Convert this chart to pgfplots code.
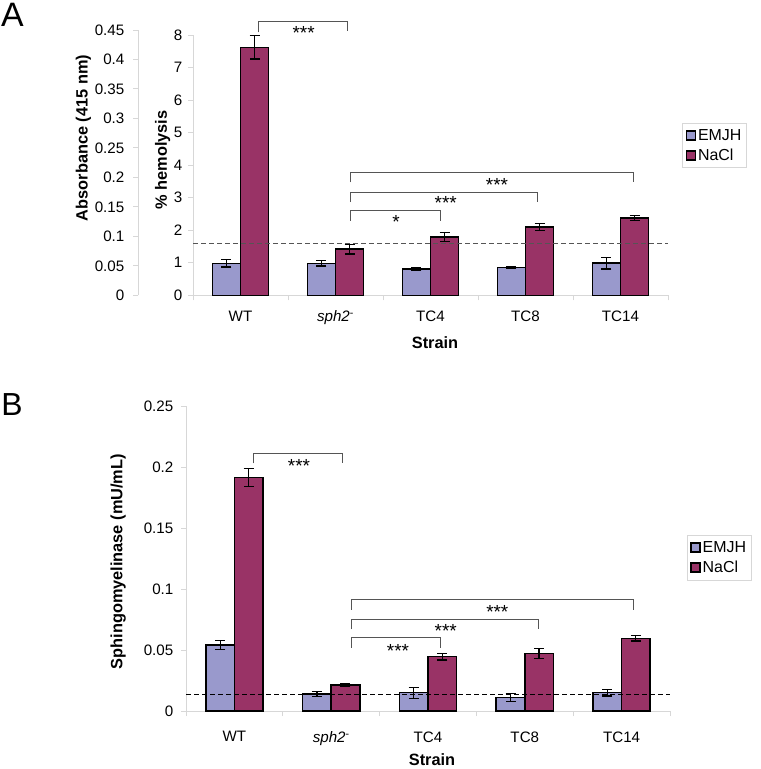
\documentclass[border=0pt]{standalone}
\usepackage{pgfplots}
\pgfplotsset{compat=1.18}
\usepackage{pgfplotstable}
\usepackage{fontspec}
\setmainfont{Liberation Sans}
\definecolor{emjh}{RGB}{153,153,204}
\definecolor{nacl}{RGB}{153,51,102}
\definecolor{axgray}{RGB}{215,215,215}
\definecolor{brgray}{RGB}{85,85,85}

\pgfplotstableread{
x emjh emjherr nacl naclerr
0 0.98 0.11 7.62 0.36
1 0.98 0.08 1.42 0.15
2 0.81 0.04 1.79 0.14
3 0.86 0.02 2.10 0.10
4 0.99 0.18 2.38 0.08
}\dataA

\pgfplotstableread{
x emjh emjherr nacl naclerr
0 0.0541 0.0040 0.1915 0.0074
1 0.0139 0.0020 0.0213 0.0008
2 0.0150 0.0045 0.0445 0.0027
3 0.0112 0.0033 0.0470 0.0042
4 0.0150 0.0027 0.0596 0.0022
}\dataB

\tikzset{
  bracket/.style={brgray, line width=1bp},
  stars/.style={anchor=north, inner sep=0pt, font=\fontsize{19}{19}\selectfont},
  boldlab/.style={inner sep=0pt, font=\bfseries\fontsize{16.4}{18}\selectfont},
}

\pgfplotsset{
  yaxisgray/.style={
    scale only axis, clip=false,
    axis y line*=left,
    y axis line style={axgray, line width=1bp},
    tick align=outside, major tick length=5bp,
    ytick style={axgray, line width=1bp},
    /pgf/number format/assume math mode=true,
    tick label style={font=\fontsize{15.2}{17}\selectfont},
  },
  barchart/.style={
    yaxisgray,
    ybar=0pt, bar width=0.295,
    xmin=-0.5, xmax=4.5, ymin=0,
    axis x line*=bottom,
    x axis line style={axgray, line width=1bp},
    xtick={-0.5,0.5,...,4.5}, xticklabels={},
    xtick style={axgray, line width=1bp},
    extra x ticks={0,1,2,3,4},
    extra x tick labels={WT,\textit{sph2}\textsuperscript{-},TC4,TC8,TC14},
    legend style={draw=axgray, fill=white, line width=0.8bp,
      font=\fontsize{16}{17}\selectfont, inner xsep=3bp, inner ysep=4bp,
      row sep=3bp, cells={anchor=west}},
    legend image code/.code={\draw[#1, draw=black, line width=1.4bp] (0bp,-4.5bp) rectangle (9bp,4.5bp);},
  },
  emjhbar/.style={fill=emjh, draw=black, line width=1.5bp,
    error bars/.cd, y dir=both, y explicit,
    error bar style={line width=1.2bp, black},
    error mark options={rotate=90, black, line width=1.2bp, mark size=5bp}},
  naclbar/.style={fill=nacl, draw=black, line width=1.5bp,
    error bars/.cd, y dir=both, y explicit,
    error bar style={line width=1.2bp, black},
    error mark options={rotate=90, black, line width=1.2bp, mark size=5bp}},
}

\begin{document}
\begin{tikzpicture}
\useasboundingbox (0,0) rectangle (761bp,-769bp);

% Panel letters
\node[font=\fontsize{34}{36}\selectfont] at (12.5bp,-15bp) {A};
\node[font=\fontsize{32}{34}\selectfont] at (12bp,-404.5bp) {B};

% ---------------- Panel A: absorbance axis ----------------
\begin{axis}[yaxisgray,
  width=10bp, height=265.3bp, at={(138bp,-295.3bp)}, anchor=south west,
  xmin=0, xmax=1, ymin=0, ymax=0.45,
  axis x line=none,
  ytick={0,0.05,0.1,0.15,0.2,0.25,0.3,0.35,0.4,0.45},
  yticklabels={0,0.05,0.1,0.15,0.2,0.25,0.3,0.35,0.4,0.45},
  yticklabel style={inner sep=1.5bp, xshift=-7bp},
]
\end{axis}

% ---------------- Panel A: hemolysis bars ----------------
\begin{axis}[barchart,
  width=475bp, height=260.3bp, at={(193bp,-295.3bp)}, anchor=south west,
  ymax=8, ytick={0,1,...,8},
  yticklabel style={inner sep=1.5bp, xshift=-4bp},
  extra x tick style={major tick length=0pt, xticklabel style={yshift=-12bp}},
  legend style={at={(1.030,0.662)}, anchor=north west},
]
\addplot[emjhbar] table[x=x, y=emjh, y error=emjherr]{\dataA};
\addplot[naclbar] table[x=x, y=nacl, y error=naclerr]{\dataA};
\legend{EMJH,NaCl}
\draw[brgray, dash pattern=on 5bp off 3bp, line width=1bp] (axis cs:-0.5,1.59) -- (axis cs:4.5,1.59);
% brackets
\draw[bracket] (axis cs:0.187,8.08) |- (axis cs:1.128,8.42) -- (axis cs:1.128,8.11);
\draw[bracket] (axis cs:1.163,2.29) |- (axis cs:2.10,2.60) -- (axis cs:2.10,2.29);
\draw[bracket] (axis cs:1.163,2.86) |- (axis cs:3.128,3.16) -- (axis cs:3.128,2.86);
\draw[bracket] (axis cs:1.163,3.47) |- (axis cs:4.135,3.78) -- (axis cs:4.135,3.47);
\node[stars] at (axis cs:0.665,8.28) {***};
\node[stars] at (axis cs:1.637,2.45) {*};
\node[stars] at (axis cs:2.16,3.04) {***};
\node[stars] at (axis cs:2.70,3.61) {***};
\end{axis}

\node[boldlab, rotate=90] at (83.3bp,-138bp) {Absorbance (415 nm)};
\node[boldlab, rotate=90] at (162.7bp,-160bp) {\% hemolysis};
\node[boldlab] at (435bp,-343bp) {Strain};

% ---------------- Panel B ----------------
\begin{axis}[barchart,
  width=484bp, height=305bp, at={(186bp,-711bp)}, anchor=south west,
  ymax=0.25,
  ytick={0,0.05,0.1,0.15,0.2,0.25},
  yticklabels={0,0.05,0.1,0.15,0.2,0.25},
  yticklabel style={inner sep=1.5bp, xshift=-6bp},
  extra x tick style={major tick length=0pt, xticklabel style={yshift=-17bp}},
  legend style={at={(1.035,0.577)}, anchor=north west},
]
\addplot[emjhbar] table[x=x, y=emjh, y error=emjherr]{\dataB};
\addplot[naclbar] table[x=x, y=nacl, y error=naclerr]{\dataB};
\legend{EMJH,NaCl}
\draw[black, dash pattern=on 5bp off 3bp, line width=1bp] (axis cs:-0.5,0.0137) -- (axis cs:4.5,0.0137);
\draw[bracket] (axis cs:0.195,0.2030) |- (axis cs:1.119,0.2107) -- (axis cs:1.119,0.2030);
\draw[bracket] (axis cs:1.205,0.0519) |- (axis cs:2.124,0.0601) -- (axis cs:2.124,0.0519);
\draw[bracket] (axis cs:1.205,0.0670) |- (axis cs:3.139,0.0752) -- (axis cs:3.139,0.0670);
\draw[bracket] (axis cs:1.205,0.0828) |- (axis cs:4.121,0.0910) -- (axis cs:4.121,0.0828);
\node[stars] at (axis cs:0.667,0.2066) {***};
\node[stars] at (axis cs:1.69,0.0549) {***};
\node[stars] at (axis cs:2.183,0.0713) {***};
\node[stars] at (axis cs:2.716,0.0869) {***};
\end{axis}

\node[boldlab, rotate=90] at (118.3bp,-561.7bp) {Sphingomyelinase (mU/mL)};
\node[boldlab] at (432bp,-760bp) {Strain};
\end{tikzpicture}
\end{document}
